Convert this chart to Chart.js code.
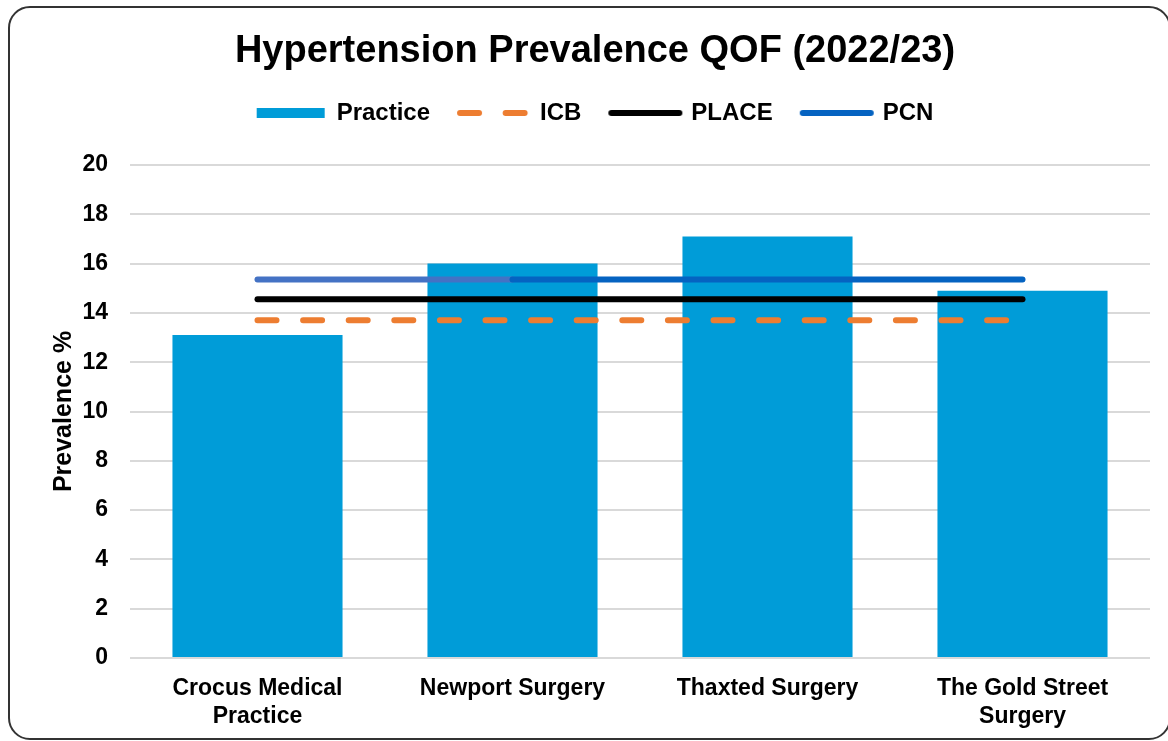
<!DOCTYPE html>
<html>
<head>
<meta charset="utf-8">
<script src="https://cdn.jsdelivr.net/npm/chart.js@4"></script>
<style>
  html, body { margin:0; padding:0; background:#fff; overflow:hidden; width:1168px; height:741px; }
  #frame { position:absolute; left:8px; top:6px; width:1163px; height:734px; border:2px solid #333; border-radius:22px; box-sizing:border-box; }
  #c { position:absolute; left:0; top:0; }
</style>
</head>
<body>
<div id="frame"></div>
<canvas id="c" width="1168" height="741"></canvas>
<script>
const titleText = 'Hypertension Prevalence QOF (2022/23)';
const categories = [['Crocus Medical', 'Practice'], 'Newport Surgery', 'Thaxted Surgery', ['The Gold Street', 'Surgery']];
const practiceValues = [13.1, 16.0, 17.1, 14.9];
const icbValues = [13.7, 13.7, 13.7, 13.7];
const placeValues = [14.55, 14.55, 14.55, 14.55];
const pcnValues = [15.35, 15.35, 15.35, 15.35];
const yTicks = [0, 2, 4, 6, 8, 10, 12, 14, 16, 18, 20];

const FONT = '"Liberation Sans", Arial, sans-serif';
Chart.defaults.font.family = FONT;
Chart.defaults.color = '#000';

const ICB_DASH = [19, 26.6];

// legend marker images
function marker(kind, color, dash) {
  const c = document.createElement('canvas');
  c.width = 76; c.height = 12;
  const g = c.getContext('2d');
  if (kind === 'rect') {
    g.fillStyle = color; g.fillRect(4, 1, 68, 10);
  } else {
    g.strokeStyle = color; g.lineWidth = 6; g.lineCap = 'round';
    if (dash) g.setLineDash(dash);
    g.beginPath(); g.moveTo(4, 6); g.lineTo(72, 6); g.stroke();
  }
  return c;
}

const spacer = {
  id: 'legendSpacer',
  beforeInit(chart) {
    const box = {
      position: 'top', weight: 500, fullSize: true, options: {},
      width: 0, height: 0, top: 0, left: 0, right: 0, bottom: 0,
      isHorizontal() { return true; },
      update(maxWidth) { this.width = maxWidth; this.height = 30; },
      draw() {}
    };
    Chart.layouts.addBox(chart, box);
  }
};

new Chart(document.getElementById('c'), {
  type: 'bar',
  data: {
    labels: categories,
    datasets: [
      { label: 'Practice', data: practiceValues, backgroundColor: '#009CD8', borderWidth: 0,
        barPercentage: 0.667, categoryPercentage: 1.0, order: 1 },
      { type: 'line', label: 'ICB', data: icbValues, borderColor: '#ED7D31', backgroundColor: '#ED7D31',
        borderWidth: 6, borderDash: ICB_DASH, borderCapStyle: 'round', pointRadius: 0, order: 0 },
      { type: 'line', label: 'PLACE', data: placeValues, borderColor: '#000000', backgroundColor: '#000000',
        borderWidth: 6, borderCapStyle: 'round', pointRadius: 0, order: 0 },
      { type: 'line', label: 'PCN', data: pcnValues, borderColor: '#0563C1', backgroundColor: '#0563C1',
        borderWidth: 6, borderCapStyle: 'round', pointRadius: 0, order: 0,
        segment: { borderColor: ctx => ctx.p0DataIndex === 0 ? '#4472C4' : '#0563C1' } }
    ]
  },
  plugins: [spacer],
  options: {
    responsive: false,
    animation: false,
    layout: { padding: { top: 33, left: 40, right: 18, bottom: 0 } },
    plugins: {
      title: { display: true, text: titleText, font: { size: 38, weight: 'bold', lineHeight: 1.0 }, color: '#000',
               padding: { top: 0, bottom: 0 } },
      legend: {
        labels: {
          usePointStyle: true, pointStyleWidth: 68, boxHeight: 10,
          font: { size: 24, weight: 'bold' }, color: '#000', padding: 30,
          generateLabels(chart) {
            const items = Chart.defaults.plugins.legend.labels.generateLabels(chart);
            items.sort((a, b) => a.datasetIndex - b.datasetIndex);
            items.forEach(it => {
              const ds = chart.data.datasets[it.datasetIndex];
              it.pointStyle = it.datasetIndex === 0
                ? marker('rect', ds.backgroundColor)
                : marker('line', ds.borderColor, ds.borderDash);
            });
            return items;
          }
        }
      },
      tooltip: { enabled: false }
    },
    scales: {
      x: {
        grid: { display: false }, border: { display: false },
        ticks: { font: { size: 23, weight: 'bold' }, color: '#000', padding: 9, maxRotation: 0, autoSkip: false },
        afterFit(s) { s.height = 83; }
      },
      y: {
        min: 0, max: 20,
        afterBuildTicks(s) { s.ticks = yTicks.map(v => ({ value: v })); },
        ticks: { font: { size: 23, weight: 'bold' }, color: '#000', padding: 22 },
        grid: { color: '#d9d9d9', lineWidth: 2, drawTicks: false },
        border: { display: false },
        title: { display: true, text: 'Prevalence %', font: { size: 25, weight: 'bold' }, color: '#000',
                 padding: { top: 9, bottom: 0 } },
        afterFit(s) { s.width = 90; }
      }
    }
  }
});
</script>
</body>
</html>
